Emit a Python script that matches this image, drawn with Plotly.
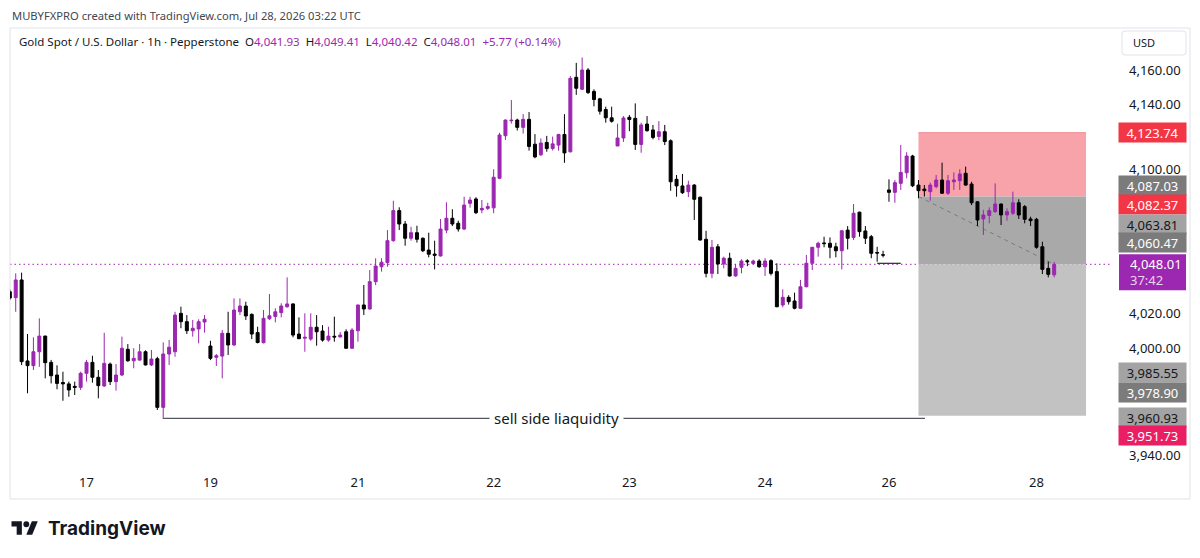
import plotly.graph_objects as go

# ---------------- data (XAUUSD, 1h, Pepperstone) ----------------
# trading-hour bars from 16 Jul 10:00 UTC to 28 Jul 03:00 UTC (index = bar number)
opens = [4032.2, 4028.8, 4039.0, 3992.4, 3989.7, 3997.7, 4006.7, 3991.6, 3984.3, 3980.0,
         3979.2, 3977.8, 3977.2, 3985.3, 3991.6, 3983.0, 3978.0, 3990.6, 3980.5, 3984.3,
         3999.1, 3992.5, 3992.9, 3997.7, 3990.1, 3993.7, 3965.7, 3996.4, 3997.7, 4019.8,
         4015.0, 4009.8, 4010.8, 4014.8, 4001.0, 3994.5, 3995.2, 4008.3, 4001.6, 4020.7,
         4024.0, 4019.2, 4008.7, 4002.9, 4016.7, 4018.0, 4020.2, 4023.6, 4025.2, 4007.9,
         4005.5, 4005.0, 4011.8, 4009.6, 4004.4, 4006.6, 4006.2, 4009.2, 3999.7, 4009.8,
         4024.6, 4022.3, 4038.0, 4046.6, 4049.0, 4061.6, 4078.9, 4071.2, 4063.0, 4066.2,
         4063.0, 4056.2, 4053.9, 4052.8, 4067.7, 4074.5, 4071.6, 4068.3, 4083.1, 4085.6,
         4079.3, 4080.2, 4080.5, 4097.5, 4122.0, 4130.6, 4131.0, 4126.8, 4131.4, 4117.1,
         4111.0, 4118.1, 4114.6, 4116.6, 4122.7, 4112.7, 4155.6, 4148.7, 4159.8, 4147.5,
         4143.2, 4137.1, 4132.3, 4116.1, 4120.7, 4132.6, 4132.0, 4117.0, 4128.7, 4125.3,
         4121.6, 4124.3, 4119.1, 4096.9, 4093.1, 4089.8, 4093.6, 4086.6, 4062.4, 4042.8,
         4058.1, 4048.2, 4051.5, 4041.3, 4046.3, 4050.0, 4048.5, 4049.9, 4046.6, 4050.1,
         4043.8, 4024.6, 4029.0, 4026.9, 4022.7, 4035.1, 4048.6, 4057.8, 4060.3, 4060.1,
         4058.1, 4055.8, 4067.7, 4063.5, 4078.0, 4067.2, 4063.9, 4054.8, 4053.5, 4090.8,
         4089.4, 4094.6, 4100.7, 4110.3, 4093.6, 4091.3, 4089.8, 4092.7, 4096.5, 4088.9,
         4095.5, 4096.1, 4100.4, 4094.2, 4084.0, 4074.1, 4076.1, 4078.3, 4082.7, 4076.4,
         4077.4, 4083.4, 4081.2, 4074.1, 4073.9, 4058.1, 4045.7, 4041.93]
highs = [4033.5, 4042.8, 4043.2, 4007.9, 4006.0, 4016.9, 4007.0, 3993.0, 3989.9, 3986.2,
         3980.5, 3980.5, 3986.2, 3992.9, 3995.4, 3987.2, 4008.6, 3991.5, 3990.6, 4006.4,
         4002.1, 3999.7, 4002.1, 3998.5, 3998.7, 3994.8, 4003.1, 4004.5, 4020.7, 4023.6,
         4018.8, 4016.0, 4016.4, 4018.8, 4004.0, 3996.4, 4010.2, 4020.7, 4028.4, 4028.4,
         4026.5, 4019.8, 4012.1, 4021.7, 4030.9, 4022.7, 4025.6, 4040.5, 4025.6, 4017.5,
         4019.8, 4019.8, 4018.8, 4013.0, 4012.1, 4017.9, 4009.0, 4010.6, 4011.3, 4024.8,
         4036.1, 4044.7, 4051.5, 4051.5, 4067.7, 4084.6, 4080.8, 4072.9, 4069.6, 4070.2,
         4063.5, 4066.2, 4061.6, 4074.1, 4083.7, 4079.7, 4073.1, 4086.9, 4086.9, 4086.6,
         4085.0, 4083.4, 4102.7, 4123.7, 4131.3, 4142.5, 4131.8, 4134.5, 4135.6, 4122.9,
         4120.4, 4121.9, 4121.5, 4123.1, 4134.4, 4156.3, 4163.9, 4167.0, 4160.9, 4148.7,
         4143.8, 4138.7, 4138.7, 4128.9, 4133.3, 4133.9, 4140.6, 4129.5, 4133.3, 4128.2,
         4130.4, 4128.2, 4119.9, 4099.4, 4100.0, 4096.1, 4094.2, 4087.0, 4067.3, 4062.0,
         4059.7, 4052.4, 4054.7, 4048.2, 4050.9, 4050.9, 4050.7, 4050.9, 4051.5, 4050.9,
         4048.6, 4033.6, 4030.2, 4031.7, 4039.0, 4053.4, 4058.0, 4061.0, 4063.9, 4063.5,
         4060.4, 4067.7, 4070.0, 4082.7, 4078.3, 4070.0, 4064.9, 4058.1, 4055.8, 4096.9,
         4096.5, 4116.7, 4112.5, 4111.0, 4096.5, 4093.6, 4095.0, 4099.4, 4106.5, 4099.4,
         4100.9, 4102.7, 4104.2, 4095.5, 4084.3, 4079.3, 4080.8, 4094.6, 4082.9, 4080.2,
         4089.8, 4085.4, 4082.1, 4075.4, 4074.7, 4061.0, 4049.5, 4049.41]
lows = [4027.5, 4020.7, 3990.0, 3973.8, 3987.2, 3989.0, 3982.4, 3979.5, 3976.1, 3969.5,
        3971.8, 3972.8, 3975.7, 3980.5, 3979.9, 3970.9, 3977.5, 3978.5, 3975.3, 3983.8,
        3991.9, 3988.2, 3992.5, 3989.8, 3989.5, 3964.2, 3959.0, 3990.1, 3994.8, 4011.2,
        4007.9, 4006.4, 4002.5, 4008.7, 3992.9, 3989.5, 3982.4, 3995.8, 4001.0, 4018.8,
        4016.0, 4005.0, 4002.5, 4002.5, 4016.0, 4014.6, 4017.5, 4023.0, 4006.0, 4005.0,
        3997.7, 4004.0, 4001.2, 4003.5, 4003.5, 4003.5, 4006.0, 3999.4, 3999.5, 4003.5,
        4018.8, 4022.0, 4036.0, 4043.8, 4046.6, 4061.0, 4067.7, 4058.7, 4061.6, 4060.5,
        4055.0, 4052.0, 4045.1, 4052.5, 4065.9, 4070.0, 4066.8, 4067.7, 4080.6, 4076.9,
        4077.4, 4079.3, 4077.4, 4097.0, 4119.5, 4129.0, 4125.0, 4123.2, 4113.4, 4109.0,
        4110.4, 4112.8, 4113.5, 4113.4, 4106.4, 4112.5, 4145.5, 4148.3, 4146.0, 4138.9,
        4134.2, 4129.5, 4129.5, 4116.0, 4118.4, 4124.6, 4113.8, 4112.2, 4124.3, 4119.9,
        4119.4, 4116.6, 4090.3, 4086.9, 4088.5, 4086.7, 4073.5, 4061.6, 4040.5, 4040.0,
        4042.4, 4045.7, 4040.9, 4040.9, 4042.8, 4046.9, 4048.0, 4046.0, 4041.3, 4041.6,
        4023.3, 4023.3, 4024.8, 4022.1, 4022.5, 4034.8, 4044.7, 4052.4, 4057.8, 4051.5,
        4052.0, 4045.1, 4056.6, 4062.0, 4063.9, 4059.7, 4051.5, 4049.5, 4052.0, 4084.0,
        4083.4, 4090.8, 4097.5, 4092.4, 4086.0, 4087.0, 4084.6, 4091.7, 4088.5, 4087.9,
        4090.8, 4090.8, 4093.2, 4082.1, 4070.0, 4064.9, 4071.6, 4077.7, 4070.6, 4073.1,
        4076.4, 4074.1, 4071.6, 4070.0, 4057.0, 4042.4, 4040.5, 4040.42]
closes = [4028.6, 4039.0, 3992.0, 3989.7, 3997.7, 4006.7, 3991.4, 3983.9, 3979.5, 3979.2,
          3975.7, 3977.2, 3985.3, 3991.6, 3983.0, 3978.2, 3991.0, 3980.5, 3984.3, 3999.7,
          3992.5, 3993.9, 3997.7, 3990.1, 3993.5, 3965.7, 3996.4, 4000.3, 4018.8, 4015.0,
          4009.8, 4011.2, 4015.0, 4016.4, 3993.9, 3995.4, 4008.3, 4001.6, 4021.7, 4024.0,
          4018.3, 4007.9, 4003.0, 4016.9, 4018.4, 4020.7, 4024.0, 4025.2, 4007.3, 4005.2,
          4006.0, 4011.8, 4009.2, 4004.4, 4006.7, 4006.2, 4007.3, 3999.7, 4010.2, 4024.6,
          4022.3, 4038.0, 4047.0, 4049.2, 4061.6, 4078.9, 4071.2, 4063.0, 4066.2, 4062.4,
          4055.8, 4053.8, 4053.2, 4068.3, 4074.5, 4071.2, 4068.3, 4082.1, 4085.0, 4077.7,
          4080.2, 4081.2, 4098.1, 4122.4, 4131.0, 4130.9, 4126.8, 4131.4, 4115.8, 4109.8,
          4117.8, 4114.6, 4117.3, 4122.7, 4112.1, 4155.0, 4149.3, 4159.8, 4146.8, 4142.8,
          4136.1, 4132.3, 4130.3, 4120.7, 4132.2, 4131.3, 4117.0, 4128.2, 4124.9, 4121.0,
          4124.3, 4118.6, 4095.5, 4093.1, 4089.2, 4093.6, 4085.4, 4062.0, 4042.8, 4057.8,
          4048.2, 4051.5, 4041.3, 4045.7, 4049.9, 4049.5, 4049.9, 4046.6, 4049.9, 4042.8,
          4023.6, 4029.0, 4026.5, 4022.7, 4035.1, 4048.6, 4057.8, 4060.1, 4059.9, 4057.8,
          4055.8, 4067.3, 4063.0, 4077.4, 4066.8, 4063.0, 4054.3, 4054.5, 4053.3, 4089.4,
          4095.0, 4100.9, 4110.3, 4093.2, 4090.4, 4090.4, 4093.6, 4096.5, 4088.9, 4096.1,
          4096.5, 4100.0, 4093.6, 4083.4, 4073.5, 4076.4, 4078.9, 4082.7, 4076.4, 4078.3,
          4083.4, 4076.4, 4073.9, 4073.1, 4057.8, 4045.1, 4042.24, 4048.01]

day_labels = ["17", "19", "21", "22", "23", "24", "26", "28"]
day_start_bar = [13, 34, 59, 82, 105, 128, 149, 174]
# axis prices that are not hidden behind a price tag
price_ticks = [3940, 4000, 4020, 4100, 4140, 4160]

# drawings (short position tool, liquidity line, price tags)
entry_price = 4087.03
stop_price = 4123.74
target_price = 3960.93
position_bars = [154, 182.4]
sell_side_level = 3959.4
sell_side_bars = [26, 155.1]
sell_side_text = "sell side liaquidity"
ray_level = 4048.6
ray_bars = [147, 151]
tag_values = [4123.74, 4087.03, 4082.37, 4063.81, 4060.47, 3985.55, 3978.90, 3960.93, 3951.73]
countdown = "37:42"

# ---------------- styling ----------------
PURPLE = "#9c27b0"
DARK = "#131722"
FONT = "Noto Sans"
W, H = 1200, 558
PL, PR, PT, PB = 10, 1112, 28, 468
Y0, Y1 = 3930.81, 4183.97
X0, X1 = 0.03, 186.8


def px(x):
    return (x - PL) / (PR - PL)


def py(y):
    return (PB - y) / (PB - PT)


def ypix(p):
    return PB - (p - Y0) / (Y1 - Y0) * (PB - PT)


def P(x, y):
    return f"{px(x):.5f},{py(y):.5f}"


bars = list(range(len(opens)))
last = closes[-1]

fig = go.Figure(go.Candlestick(
    x=bars, open=opens, high=highs, low=lows, close=closes,
    increasing=dict(line=dict(color=PURPLE, width=1), fillcolor=PURPLE),
    decreasing=dict(line=dict(color="#000000", width=1), fillcolor="#000000"),
    whiskerwidth=0, hoverinfo="skip", showlegend=False,
))

shapes = []
# position tool zones
shapes.append(dict(type="rect", xref="x", yref="y", x0=position_bars[0], x1=position_bars[1],
                   y0=entry_price, y1=stop_price, fillcolor="#f8a2a9",
                   line=dict(width=0), layer="below"))
shapes.append(dict(type="line", xref="x", yref="y", x0=position_bars[0], x1=position_bars[1],
                   y0=stop_price, y1=stop_price, line=dict(color="#f08a92", width=1), layer="below"))
shapes.append(dict(type="rect", xref="x", yref="y", x0=position_bars[0], x1=position_bars[1],
                   y0=last, y1=entry_price, fillcolor="#a9a9a9",
                   line=dict(width=0), layer="below"))
shapes.append(dict(type="rect", xref="x", yref="y", x0=position_bars[0], x1=position_bars[1],
                   y0=target_price, y1=last, fillcolor="#c2c2c2",
                   line=dict(width=0), layer="below"))
shapes.append(dict(type="line", xref="x", yref="y", x0=position_bars[0], x1=bars[-1],
                   y0=entry_price, y1=last, line=dict(color="#7b7b7b", width=1, dash="4px,4px"),
                   layer="below"))
# current price dotted line
shapes.append(dict(type="line", xref="paper", yref="y", x0=0, x1=1, y0=last, y1=last,
                   line=dict(color=PURPLE, width=1, dash="1.5px,3px"), layer="below"))
# sell side liquidity line
shapes.append(dict(type="line", xref="x", yref="y", x0=sell_side_bars[0], x1=sell_side_bars[1],
                   y0=sell_side_level, y1=sell_side_level, line=dict(color="#2a2e39", width=1),
                   layer="below"))
# small horizontal ray
shapes.append(dict(type="line", xref="x", yref="y", x0=ray_bars[0], x1=ray_bars[1],
                   y0=ray_level, y1=ray_level, line=dict(color="#000000", width=1), layer="below"))
# panel border
shapes.append(dict(type="rect", xref="paper", yref="paper", x0=px(10), x1=px(1190),
                   y0=py(28), y1=py(499), line=dict(color="#e0e3eb", width=1), layer="below"))
# USD box
usd = (f"M{P(1125,31)} L{P(1183,31)} Q{P(1186,31)} {P(1186,34)} L{P(1186,52)} "
       f"Q{P(1186,55)} {P(1183,55)} L{P(1125,55)} Q{P(1122,55)} {P(1122,52)} "
       f"L{P(1122,34)} Q{P(1122,31)} {P(1125,31)} Z")
shapes.append(dict(type="path", xref="paper", yref="paper", path=usd,
                   line=dict(color="#e0e3eb", width=1), fillcolor="white"))
# current price tag background
yl = ypix(last)
shapes.append(dict(type="rect", xref="paper", yref="paper", x0=px(1119), x1=px(1186),
                   y0=py(yl - 10), y1=py(yl + 26), fillcolor=PURPLE, line=dict(width=0)))
# TradingView logo
s, lx, lc = 0.74, 11.5, 528


def L(u, v):
    return P(lx + u * s, lc + (v - 13) * s)


logo1 = f"M{L(14,22)} L{L(7,22)} L{L(7,11)} L{L(0,11)} L{L(0,4)} L{L(14,4)} Z"
logo2 = f"M{L(28,22)} L{L(20,22)} L{L(27.5,4)} L{L(35.5,4)} Z"
for pth in (logo1, logo2):
    shapes.append(dict(type="path", xref="paper", yref="paper", path=pth,
                       fillcolor=DARK, line=dict(width=0)))
shapes.append(dict(type="circle", xref="paper", yref="paper",
                   x0=px(lx + 16 * s), x1=px(lx + 24 * s),
                   y0=py(lc + (4 - 13) * s), y1=py(lc + (12 - 13) * s),
                   fillcolor=DARK, line=dict(width=0)))

ann = []
ann.append(dict(text="MUBYFXPRO created with TradingView.com, Jul 28, 2026 03:22 UTC",
                xref="paper", yref="paper", x=px(10), y=py(15), xanchor="left", yanchor="middle",
                showarrow=False, font=dict(family=FONT, size=11.2, color="#434651")))


def v(x):
    return f"<span style='color:{PURPLE}'>{x:,.2f}</span>"


chg = closes[-1] - closes[-2]
pct = chg / closes[-2] * 100
legend = ("Gold Spot / U.S. Dollar · 1h · Pepperstone&nbsp;&nbsp;"
          f"O{v(opens[-1])}&nbsp;&nbsp;H{v(highs[-1])}&nbsp;&nbsp;L{v(lows[-1])}&nbsp;&nbsp;"
          f"C{v(closes[-1])}&nbsp;&nbsp;<span style='color:{PURPLE}'>{chg:+.2f} ({pct:+.2f}%)</span>")
ann.append(dict(text=legend, xref="paper", yref="paper", x=px(17), y=py(41),
                xanchor="left", yanchor="middle", showarrow=False,
                font=dict(family=FONT, size=11.5, color=DARK)))
ann.append(dict(text="USD", xref="paper", yref="paper", x=px(1131), y=py(43),
                xanchor="left", yanchor="middle", showarrow=False,
                font=dict(family=FONT, size=11, color=DARK)))

# price axis labels (nudged a few pixels where a tag sits next to them)
tick_nudge = {4100: -4.5, 3940: 2.5}
for t in price_ticks:
    ann.append(dict(text=f"{t:,.2f}", xref="paper", yref="paper", x=px(1127),
                    y=py(ypix(t) + tick_nudge.get(t, 0)), xanchor="left", yanchor="middle",
                    showarrow=False, font=dict(family=FONT, size=13, color=DARK)))

# price tags on the axis (bg colour, text colour, pixel shift to avoid overlap)
tag_style = [("#f23645", "white", 0), ("#7b7b7b", "white", -10.5), ("#f23645", "white", 0),
             ("#a3a3a3", DARK, -12.6), ("#7b7b7b", "white", 0), ("#a3a3a3", DARK, 0),
             ("#7b7b7b", "white", 7.8), ("#a3a3a3", DARK, 1.4), ("#e91e63", "white", 4)]
for val, (bg, fg, shift) in zip(tag_values, tag_style):
    ann.append(dict(text=f"{val:,.2f}", xref="paper", yref="paper", x=px(1152.5),
                    y=py(ypix(val) + shift), xanchor="center", yanchor="middle",
                    width=67, height=19, bgcolor=bg, borderpad=0, showarrow=False,
                    font=dict(family=FONT, size=13, color=fg)))
ann.append(dict(text=f"{last:,.2f}", xref="paper", yref="paper", x=px(1128), y=py(yl),
                xanchor="left", yanchor="middle", showarrow=False,
                font=dict(family=FONT, size=13, color="white")))
ann.append(dict(text=countdown, xref="paper", yref="paper", x=px(1128), y=py(yl + 16),
                xanchor="left", yanchor="middle", showarrow=False,
                font=dict(family=FONT, size=13, color="rgba(255,255,255,0.82)")))
# sell side text
ann.append(dict(text=sell_side_text, xref="x", yref="y", x=92.7, y=sell_side_level,
                xanchor="center", yanchor="middle", bgcolor="white", borderpad=4,
                showarrow=False, font=dict(family=FONT, size=15, color=DARK)))
# TradingView wordmark
ann.append(dict(text="<b>TradingView</b>", xref="paper", yref="paper", x=px(46), y=py(528),
                xanchor="left", yanchor="middle", showarrow=False,
                font=dict(family="Inter", size=19, color=DARK)))

fig.update_layout(
    width=W, height=H, margin=dict(l=PL, r=W - PR, t=PT, b=H - PB),
    paper_bgcolor="white", plot_bgcolor="white", boxgap=0.28,
    showlegend=False, hovermode=False,
    shapes=shapes, annotations=ann,
    xaxis=dict(range=[X0, X1], rangeslider=dict(visible=False), showgrid=False,
               zeroline=False, showline=False, tickvals=day_start_bar, ticktext=day_labels,
               ticks="", ticklabelstandoff=5, tickfont=dict(family=FONT, size=13, color=DARK)),
    yaxis=dict(range=[Y0, Y1], side="right", showgrid=False, zeroline=False, showline=False,
               showticklabels=False, ticks=""),
)

fig.write_html("out.html")
